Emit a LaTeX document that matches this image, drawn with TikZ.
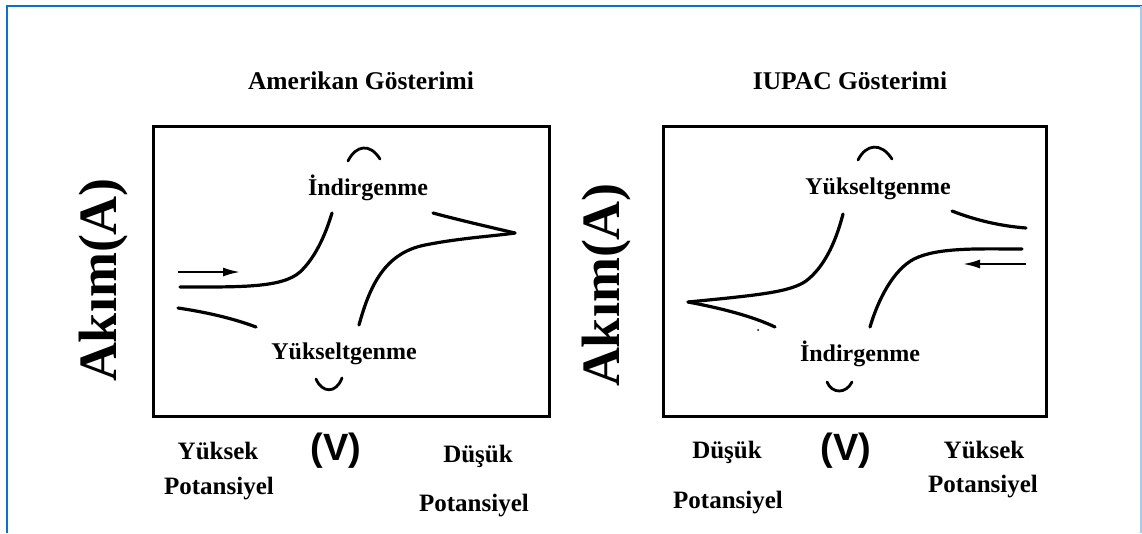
\documentclass[tikz,border=0pt]{standalone}
\usepackage{fontspec}
\setmainfont{Liberation Serif}
\newfontfamily\lsans{Liberation Sans}
\usetikzlibrary{arrows.meta}
\definecolor{frameblue}{HTML}{0A72C8}
\definecolor{framelight}{HTML}{A9C9E8}
\begin{document}
\begin{tikzpicture}[x=1pt,y=-1pt,
  lbl/.style={font=\fontsize{24}{28}\selectfont\bfseries, inner sep=0pt, anchor=base},
  ttl/.style={font=\fontsize{25.5}{29}\selectfont\bfseries, inner sep=0pt, anchor=base},
  axlbl/.style={font=\fontsize{25}{29}\selectfont\bfseries, inner sep=0pt, anchor=base},
  akim/.style={font=\fontsize{54}{60}\selectfont\bfseries, inner sep=0pt, rotate=90},
  volt/.style={font=\lsans\fontsize{38}{44}\selectfont\bfseries, inner sep=0pt},
  panel/.style={draw=black, line width=3pt},
  curve/.style={line width=3.2pt, line cap=round},
  brk/.style={line width=2.8pt, line cap=round},
  scanarrow/.style={line width=2pt, -{Latex[length=17pt,width=9pt]}}]
\useasboundingbox (0,0) rectangle (1142,533);
\fill[white] (0,0) rectangle (1142,533);
% outer frame
\draw[frameblue, line width=2.6pt] (7,533) -- (7,6) -- (1142,6);
\draw[framelight, line width=1.2pt] (1141,6) -- (1141,533);

% titles
\node[ttl] (t1) at (361,89) {Amerikan Gösterimi};
\node[ttl] (t2) at (850,89) {IUPAC Gösterimi};

% ---------- left panel ----------
\draw[panel] (153,126) rectangle (549,416);
\node[akim] (ak1) at (104,280) {Akım(A)};
\draw[brk] (348,161) .. controls (356,145) and (370,143) .. (380,159);
\node[lbl] (ind1) at (368,195) {İndirgenme};
\draw[curve] (180,287) .. controls (240,287) and (282,288) .. (300,272)
             .. controls (315,258) and (325,236) .. (332,213);
\coordinate (a1s) at (178,272);
\coordinate (a1e) at (240,272);
\draw[scanarrow] (a1s) -- (a1e);
\draw[curve] (178,308) .. controls (205,312) and (232,318) .. (256,327);
\draw[curve] (359,325) .. controls (370,285) and (385,253) .. (425,245)
             .. controls (460,238) and (495,236) .. (515,233);
\draw[curve] (515,233) .. controls (485,226) and (455,219) .. (433,213);
\node[lbl] (yuk1) at (344,359) {Yükseltgenme};
\draw[brk] (316,379) .. controls (322,393) and (336,394) .. (342,378);
% axis labels left
\node[axlbl] (ys1) at (218,459) {Yüksek};
\node[axlbl] (ps1) at (219,494) {Potansiyel};
\node[volt] (v1) at (336,451) {(V)};
\node[axlbl] (ds1) at (478,462) {Düşük};
\node[axlbl] (pd1) at (474,511) {Potansiyel};

% ---------- right panel ----------
\draw[panel] (663,126) rectangle (1046,416);
\node[akim] (ak2) at (607,285) {Akım(A)};
\draw[brk] (858,160) .. controls (866,144) and (881,142) .. (892,159);
\node[lbl] (yuk2) at (878,194) {Yükseltgenme};
\draw[curve] (952,211) .. controls (975,220) and (1000,226) .. (1026,228);
\draw[curve] (1022,249) .. controls (980,249) and (938,247) .. (914,259)
             .. controls (893,270) and (878,300) .. (870,327);
\coordinate (a2s) at (1026,264);
\coordinate (a2e) at (963,264);
\draw[scanarrow] (a2s) -- (a2e);
\draw[curve] (843,214) .. controls (835,245) and (823,268) .. (806,281)
             .. controls (790,292) and (760,295) .. (688,302);
\draw[curve] (688,302) .. controls (720,308) and (752,316) .. (775,327);
\fill (758,330) circle (1pt);
\node[lbl] (ind2) at (860,361) {İndirgenme};
\draw[brk] (827,382) .. controls (832,394) and (846,394) .. (852,382);
% axis labels right
\node[axlbl] (ds2) at (727,458) {Düşük};
\node[axlbl] (pd2) at (728,508) {Potansiyel};
\node[volt] (v2) at (846,451) {(V)};
\node[axlbl] (ys2) at (984,458) {Yüksek};
\node[axlbl] (ps2) at (983,492) {Potansiyel};
\end{tikzpicture}
\end{document}
